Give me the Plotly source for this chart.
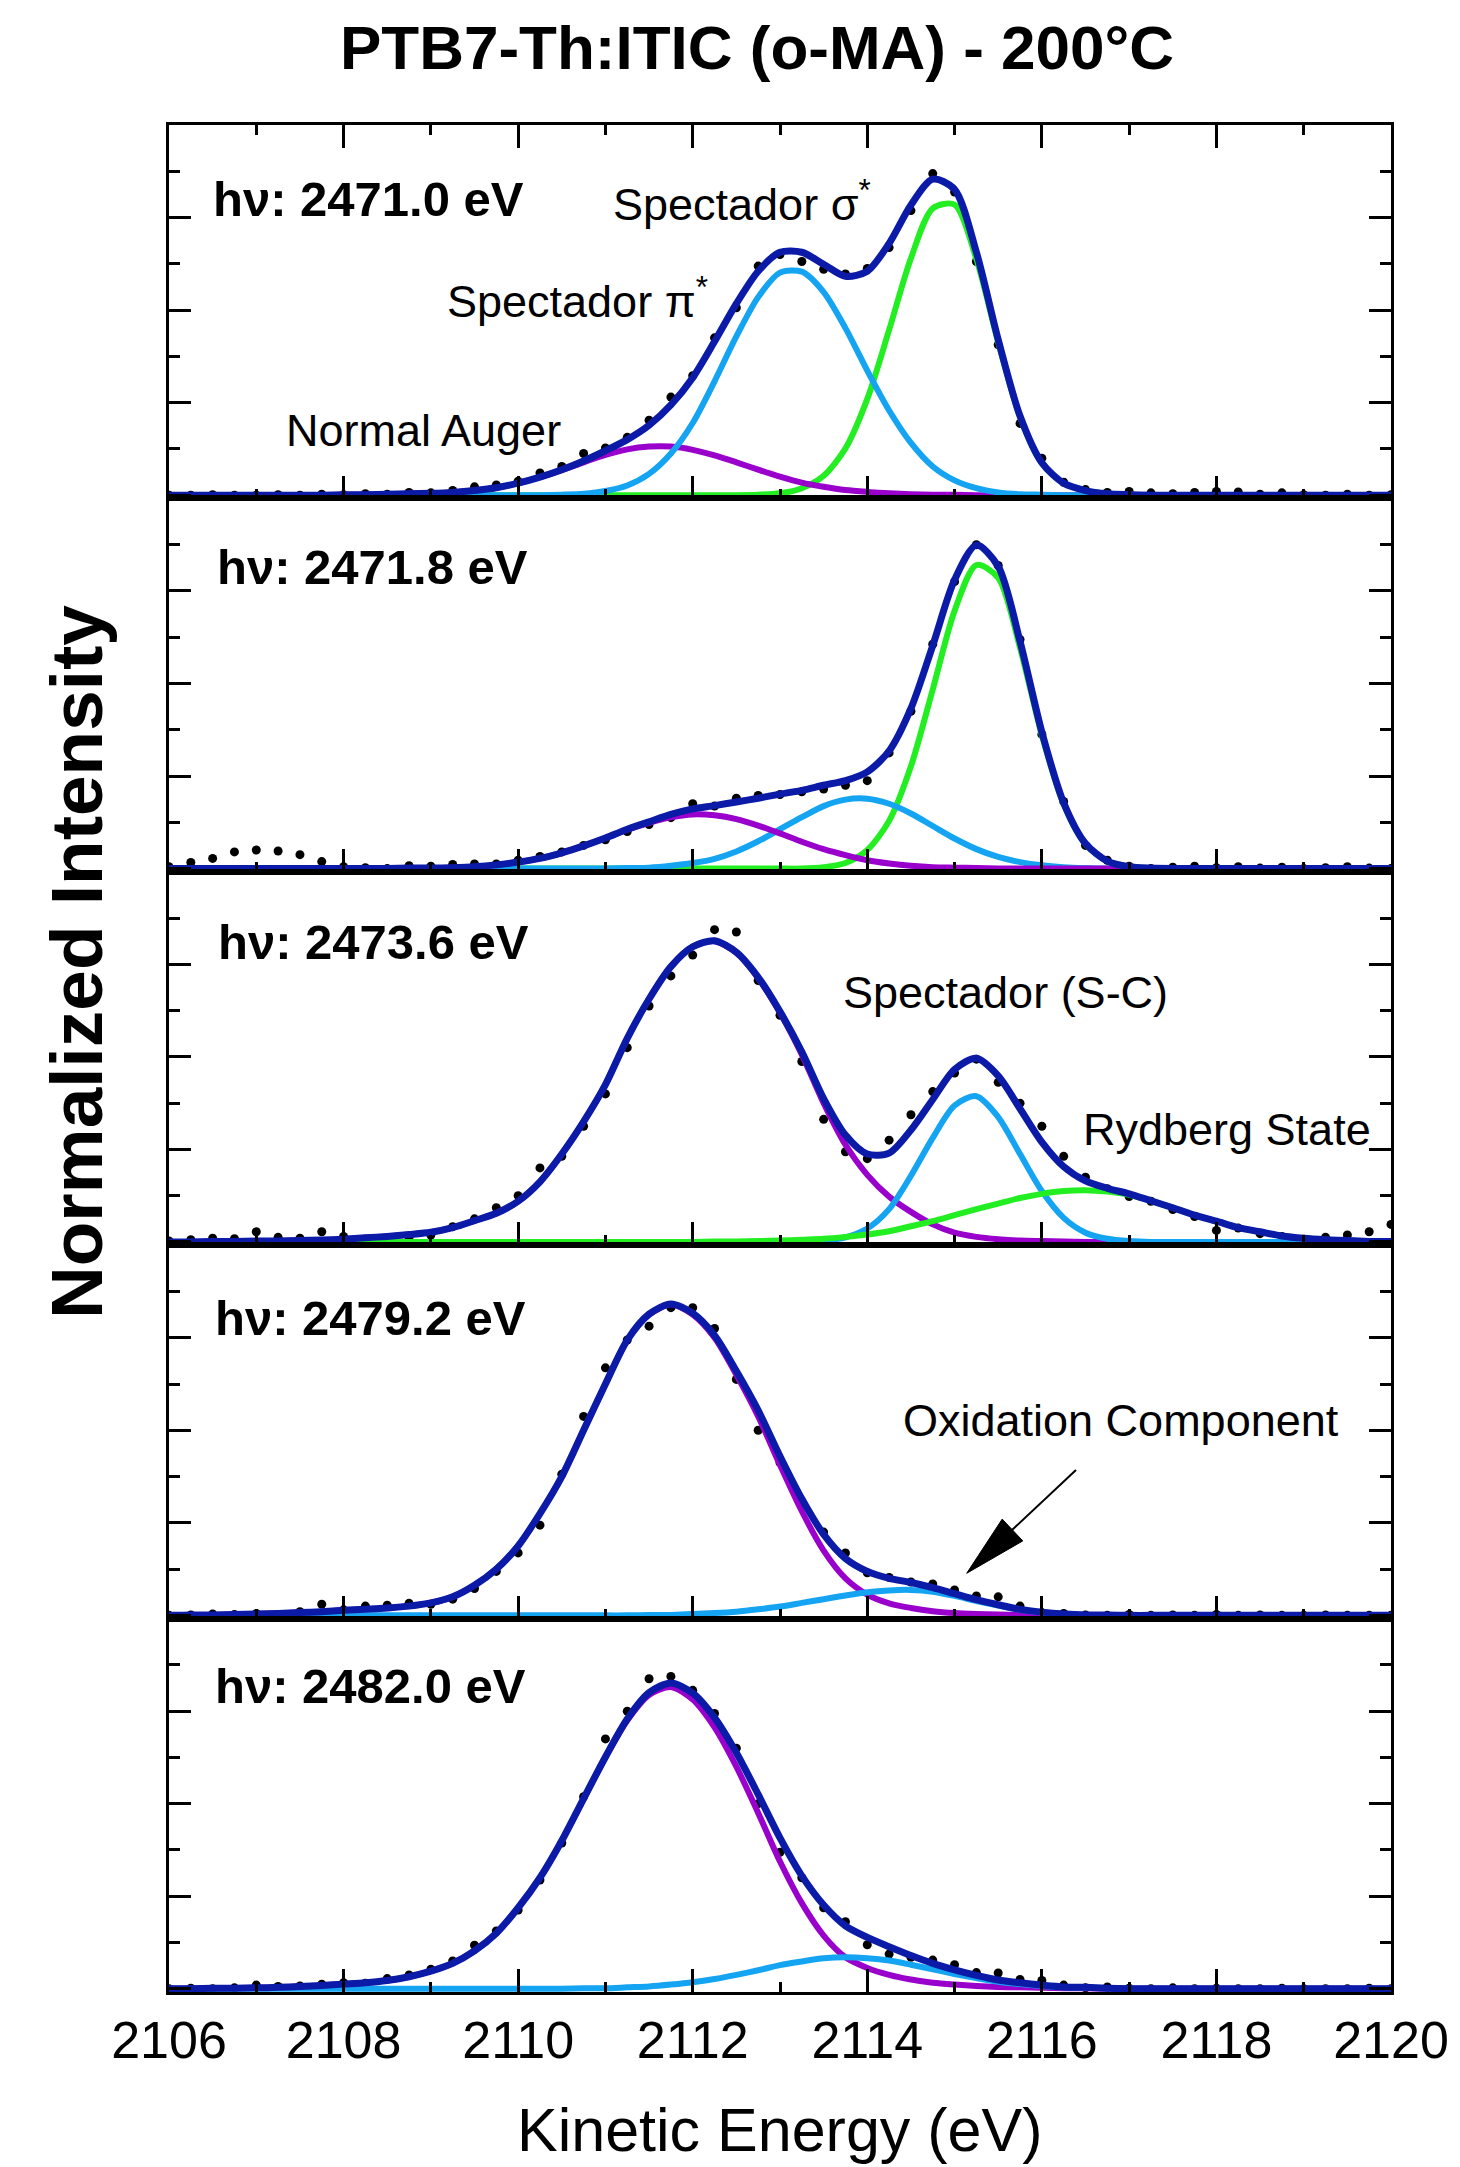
import numpy as np
import plotly.graph_objects as go
from plotly.subplots import make_subplots

# ---------------- data ----------------
KE = [2106.00, 2106.25, 2106.50, 2106.75, 2107.00, 2107.25, 2107.50, 2107.75,
      2108.00, 2108.25, 2108.50, 2108.75, 2109.00, 2109.25, 2109.50, 2109.75,
      2110.00, 2110.25, 2110.50, 2110.75, 2111.00, 2111.25, 2111.50, 2111.75,
      2112.00, 2112.25, 2112.50, 2112.75, 2113.00, 2113.25, 2113.50, 2113.75,
      2114.00, 2114.25, 2114.50, 2114.75, 2115.00, 2115.25, 2115.50, 2115.75,
      2116.00, 2116.25, 2116.50, 2116.75, 2117.00, 2117.25, 2117.50, 2117.75,
      2118.00, 2118.25, 2118.50, 2118.75, 2119.00, 2119.25, 2119.50, 2119.75,
      2120.00]

X_TICKS = [2106, 2108, 2110, 2112, 2114, 2116, 2118, 2120]

# hv = 2471.0 eV
P1_AUGER = [0,0,0,0, 0,0,0,0, 0.01,0.01,0.02,0.03, 0.04,0.06,0.10,0.16,
            0.26,0.39,0.54,0.71, 0.87,0.99,1.05,1.05, 0.98,0.86,0.71,0.55,
            0.40,0.27,0.18,0.11, 0.07,0.04,0.02,0.01, 0.01,0,0,0,
            0,0,0,0, 0,0,0,0, 0,0,0,0, 0,0,0,0, 0]
P1_PI = [0,0,0,0, 0,0,0,0, 0,0,0,0, 0,0,0,0,
         0,0,0.01,0.03, 0.09,0.21,0.46,0.90, 1.56,2.46,3.43,4.28,
         4.81,4.83,4.39,3.61, 2.69,1.83,1.13,0.62, 0.32,0.15,0.06,0.02,
         0.01,0,0,0, 0,0,0,0, 0,0,0,0, 0,0,0,0, 0]
P1_SIGMA = [0,0,0,0, 0,0,0,0, 0,0,0,0, 0,0,0,0,
            0,0,0,0, 0,0,0,0, 0,0,0,0.01,
            0.04,0.15,0.42,1.01, 2.08,3.57,5.12,6.20, 6.28,5.10,3.30,1.69,
            0.69,0.26,0.10,0.03, 0.01,0,0,0, 0,0,0,0, 0,0,0,0, 0]
P1_DATA = [0.00,0.00,0.01,0.00, 0.00,0.01,0.00,0.02, 0.01,0.03,0.02,0.06,
           0.05,0.10,0.18,0.22, 0.30,0.48,0.62,0.90, 1.02,1.25,1.62,2.12,
           2.58,3.40,4.05,4.95, 5.20,5.05,4.88,4.78, 4.90,5.35,6.15,6.95,
           6.55,5.05,3.25,1.55, 0.80,0.28,0.12,0.06, 0.08,0.05,0.03,0.06,
           0.08,0.07,0.02,0.05, 0.01,0.00,0.02,0.00, 0.01]

# hv = 2471.8 eV
P2_AUGER = [0,0,0,0, 0,0,0,0, 0,0,0,0.01, 0.01,0.02,0.04,0.08,
            0.14,0.22,0.34,0.49, 0.66,0.84,0.99,1.11, 1.17,1.15,1.07,0.93,
            0.76,0.58,0.42,0.29, 0.18,0.11,0.06,0.03, 0.02,0.01,0,0,
            0,0,0,0, 0,0,0,0, 0,0,0,0, 0,0,0,0, 0]
P2_PI = [0,0,0,0, 0,0,0,0, 0,0,0,0, 0,0,0,0,
         0,0,0,0, 0,0.01,0.02,0.06, 0.12,0.21,0.37,0.59,
         0.85,1.11,1.35,1.49, 1.51,1.40,1.19,0.92, 0.65,0.42,0.25,0.14,
         0.07,0.03,0.01,0, 0,0,0,0, 0,0,0,0, 0,0,0,0, 0]
P2_SIGMA = [0,0,0,0, 0,0,0,0, 0,0,0,0, 0,0,0,0,
            0,0,0,0, 0,0,0,0, 0,0,0,0,
            0,0,0.03,0.12, 0.40,1.03,2.21,3.87, 5.57,6.56,6.28,4.77,
            2.88,1.39,0.53,0.16, 0.04,0.01,0,0, 0,0,0,0, 0,0,0,0, 0]
P2_DATA = [0.04,0.13,0.22,0.36, 0.40,0.38,0.30,0.15, 0.04,0.02,0.00,0.06,
           0.05,0.09,0.10,0.10, 0.18,0.26,0.36,0.50, 0.62,0.80,0.95,1.10,
           1.40,1.35,1.52,1.58, 1.60,1.66,1.72,1.80, 1.90,2.50,3.40,4.85,
           6.20,7.00,6.55,4.95, 2.90,1.45,0.50,0.18, 0.05,0.00,0.03,0.05,
           0.02,0.04,0.01,0.03, 0.00,0.02,0.04,0.01, 0.00]

# hv = 2473.6 eV
P3_AUGER = [0.00,0.00,0.01,0.01, 0.02,0.02,0.03,0.04, 0.06,0.09,0.12,0.16,
            0.21,0.31,0.46,0.62, 0.88,1.30,1.90,2.60, 3.40,4.40,5.25,5.95,
            6.38,6.50,6.25,5.70, 4.95,4.05,3.00,2.10, 1.45,0.98,0.65,0.38,
            0.20,0.11,0.06,0.03, 0.02,0.01,0,0, 0,0,0,0, 0,0,0,0, 0,0,0,0, 0]
P3_SC = [0,0,0,0, 0,0,0,0, 0,0,0,0, 0,0,0,0,
         0,0,0,0, 0,0,0,0, 0,0,0,0,
         0,0.01,0.03,0.10, 0.29,0.71,1.43,2.25, 2.95,3.15,2.70,1.90,
         1.10,0.52,0.20,0.07, 0.02,0,0,0, 0,0,0,0, 0,0,0,0, 0]
P3_RYD = [0,0,0,0, 0,0,0,0, 0,0,0,0, 0,0,0,0,
          0,0,0,0, 0,0,0,0, 0,0.01,0.01,0.02,
          0.03,0.05,0.07,0.11, 0.16,0.23,0.34,0.45, 0.58,0.71,0.83,0.95,
          1.04,1.10,1.12,1.09, 1.02,0.89,0.74,0.58, 0.45,0.31,0.22,0.13,
          0.08,0.05,0.03,0.01, 0.01]
P3_DATA = [0.02,0.05,0.08,0.07, 0.22,0.10,0.08,0.22, 0.12,0.06,0.08,0.10,
           0.15,0.33,0.50,0.74, 1.00,1.60,1.85,2.50, 3.20,4.20,5.10,5.75,
           6.20,6.75,6.70,5.65, 4.90,3.90,2.65,1.95, 1.80,2.20,2.75,3.25,
           3.65,3.95,3.45,3.00, 2.50,1.85,1.40,1.15, 0.98,0.88,0.70,0.55,
           0.25,0.30,0.18,0.12, 0.06,0.10,0.15,0.22, 0.38]

# hv = 2479.2 eV
P4_AUGER = [0.00,0.01,0.01,0.02, 0.03,0.04,0.06,0.08, 0.11,0.13,0.16,0.20,
            0.27,0.40,0.65,1.00, 1.50,2.20,3.00,4.00, 5.00,5.95,6.50,6.72,
            6.50,6.00,5.20,4.30, 3.25,2.25,1.40,0.80, 0.45,0.26,0.16,0.09,
            0.05,0.03,0.02,0.01, 0.01,0,0,0, 0,0,0,0, 0,0,0,0, 0,0,0,0, 0]
P4_OX = [0,0,0,0, 0,0,0,0, 0,0,0,0, 0,0,0,0,
         0,0,0,0, 0,0,0.01,0.01, 0.03,0.05,0.08,0.13,
         0.19,0.27,0.35,0.43, 0.50,0.54,0.55,0.51, 0.42,0.31,0.21,0.12,
         0.06,0.03,0.01,0.01, 0,0,0,0, 0,0,0,0, 0,0,0,0, 0]
P4_DATA = [0.00,0.01,0.03,0.02, 0.04,0.02,0.08,0.24, 0.12,0.20,0.22,0.26,
           0.24,0.35,0.58,0.95, 1.35,1.95,3.05,4.30, 5.35,5.95,6.25,6.65,
           6.65,6.20,5.10,4.00, 3.30,2.40,1.80,1.35, 0.92,0.82,0.72,0.68,
           0.55,0.42,0.40,0.20, 0.06,0.04,0.01,0.00, 0.02,0.00,0.01,0.00,
           0.02,0.00,0.01,0.00, 0.00,0.01,0.00,0.00, 0.00]

# hv = 2482.0 eV
P5_AUGER = [0.00,0.00,0.01,0.01, 0.02,0.03,0.05,0.07, 0.10,0.13,0.18,0.26,
            0.38,0.55,0.82,1.20, 1.75,2.40,3.20,4.10, 5.00,5.80,6.35,6.52,
            6.25,5.65,4.80,3.80, 2.75,1.85,1.15,0.68, 0.45,0.30,0.20,0.13,
            0.09,0.06,0.04,0.03, 0.02,0.01,0.01,0, 0,0,0,0, 0,0,0,0, 0,0,0,0, 0]
P5_OX = [0,0,0,0, 0,0,0,0, 0,0,0,0, 0,0,0,0,
         0,0,0,0.01, 0.01,0.03,0.05,0.09, 0.14,0.21,0.30,0.40,
         0.51,0.59,0.66,0.68, 0.66,0.61,0.52,0.42, 0.32,0.23,0.15,0.10,
         0.06,0.03,0.02,0.01, 0,0,0,0, 0,0,0,0, 0,0,0,0, 0]
P5_DATA = [0.00,0.01,0.00,0.02, 0.08,0.05,0.06,0.10, 0.13,0.12,0.22,0.30,
           0.42,0.60,0.94,1.25, 1.70,2.35,3.15,4.15, 5.40,6.00,6.70,6.75,
           6.45,5.95,5.20,4.00, 2.95,2.40,1.75,1.45, 0.95,0.75,0.68,0.62,
           0.52,0.35,0.34,0.20, 0.18,0.08,0.02,0.04, 0.01,0.00,0.02,0.00,
           0.01,0.00,0.00,0.01, 0.00,0.00,0.00,0.01, 0.00]

PHOTON_LABELS = ["hν: 2471.0 eV", "hν: 2471.8 eV", "hν: 2473.6 eV",
                 "hν: 2479.2 eV", "hν: 2482.0 eV"]

# ---------------- styling ----------------
FONT = "Liberation Sans, Arial, Helvetica, sans-serif"
C_TOTAL = "#0C1AA8"
C_PURPLE = "#9900CC"
C_LBLUE = "#14A4F2"
C_GREEN = "#22EE22"

# component draw order per panel (first = bottom)
PANELS = [
    dict(data=P1_DATA, comps=[(P1_SIGMA, C_GREEN), (P1_AUGER, C_PURPLE), (P1_PI, C_LBLUE)]),
    dict(data=P2_DATA, comps=[(P2_SIGMA, C_GREEN), (P2_PI, C_LBLUE), (P2_AUGER, C_PURPLE)]),
    dict(data=P3_DATA, comps=[(P3_AUGER, C_PURPLE), (P3_SC, C_LBLUE), (P3_RYD, C_GREEN)]),
    dict(data=P4_DATA, comps=[(P4_AUGER, C_PURPLE), (P4_OX, C_LBLUE)]),
    dict(data=P5_DATA, comps=[(P5_AUGER, C_PURPLE), (P5_OX, C_LBLUE)]),
]

W, H = 1460, 2167
ML, MR, MT, MB = 169, 69, 125, 175

fig = make_subplots(rows=5, cols=1, shared_xaxes=True, vertical_spacing=0)

for i, p in enumerate(PANELS):
    r = i + 1
    fig.add_trace(go.Scatter(x=KE, y=p["data"], mode="markers",
                             marker=dict(color="black", size=9),
                             hoverinfo="skip"), row=r, col=1)
    for vals, col in p["comps"]:
        fig.add_trace(go.Scatter(x=KE, y=vals, mode="lines",
                                 line=dict(color=col, width=6, shape="spline", smoothing=0.8),
                                 hoverinfo="skip"), row=r, col=1)
    total = np.sum([np.array(v, dtype=float) for v, _ in p["comps"]], axis=0)
    fig.add_trace(go.Scatter(x=KE, y=total, mode="lines",
                             line=dict(color=C_TOTAL, width=7, shape="spline", smoothing=0.8),
                             hoverinfo="skip"), row=r, col=1)

for r in range(1, 6):
    fig.update_yaxes(range=[-0.07, 8], showgrid=False, zeroline=False,
                     showline=True, linecolor="black", linewidth=2.5,
                     mirror="ticks", ticks="inside", ticklen=22, tickwidth=2.5,
                     tickcolor="black", tick0=0, dtick=2, showticklabels=False,
                     minor=dict(dtick=1, ticklen=11, tickwidth=2.5,
                                tickcolor="black", ticks="inside"),
                     row=r, col=1)
    fig.update_xaxes(range=[2106, 2120], showgrid=False, zeroline=False,
                     showline=True, linecolor="black", linewidth=2.5,
                     mirror=("ticks" if r == 1 else True),
                     ticks="inside", ticklen=23, tickwidth=2.5, tickcolor="black",
                     tickvals=X_TICKS, tickformat="d",
                     minor=dict(dtick=1, ticklen=10, tickwidth=2.5,
                                tickcolor="black", ticks="inside"),
                     showticklabels=(r == 5),
                     row=r, col=1)

fig.update_xaxes(tickfont=dict(size=52, color="black", family=FONT),
                 ticklabelstandoff=1, row=5, col=1)

def px_to_paper(x, y):
    return ((x - ML) / (W - ML - MR), 1 - (y - MT) / (H - MT - MB))

annotations = []
# photon energy labels (left edge x px, centre y px)
label_pos = [(211, 199), (215, 567), (216, 942), (213, 1318), (213, 1686)]
for txt, (lx, ly) in zip(PHOTON_LABELS, label_pos):
    ax_, ay_ = px_to_paper(lx, ly)
    annotations.append(dict(text="<b>" + txt + "</b>", x=ax_, y=ay_, xref="paper", yref="paper",
                            xanchor="left", yanchor="middle", showarrow=False,
                            font=dict(size=49, color="black", family=FONT)))

comp_labels = [
    ("Spectador σ<sup>*</sup>", 611, 201),
    ("Spectador π<sup>*</sup>", 445, 298),
    ("Normal Auger", 284, 431),
    ("Spectador (S-C)", 841, 992),
    ("Rydberg State", 1081, 1129),
    ("Oxidation Component", 901, 1420),
]
for txt, lx, ly in comp_labels:
    ax_, ay_ = px_to_paper(lx, ly)
    annotations.append(dict(text=txt, x=ax_, y=ay_, xref="paper", yref="paper",
                            xanchor="left", yanchor="middle", showarrow=False,
                            font=dict(size=45, color="black", family=FONT)))

# axis titles
tx, ty = px_to_paper(780, 2130)
annotations.append(dict(text="Kinetic Energy (eV)", x=tx, y=ty, xref="paper", yref="paper",
                        xanchor="center", yanchor="middle", showarrow=False,
                        font=dict(size=61, color="black", family=FONT)))
tx, ty = px_to_paper(77, 962)
annotations.append(dict(text="<b>Normalized Intensity</b>", x=tx, y=ty, xref="paper", yref="paper",
                        xanchor="center", yanchor="middle", showarrow=False, textangle=-90,
                        font=dict(size=73, color="black", family=FONT)))

# arrow pointing to the oxidation component
tail = px_to_paper(1076, 1470)
base = px_to_paper(1012, 1530)
tip = px_to_paper(966.7, 1573.3)
c1 = px_to_paper(1022.8, 1540.9)
c2 = px_to_paper(1002.2, 1519.1)
shapes = [
    dict(type="line", xref="paper", yref="paper", x0=tail[0], y0=tail[1], x1=base[0], y1=base[1],
         line=dict(color="black", width=2)),
    dict(type="path", xref="paper", yref="paper",
         path=f"M {tip[0]},{tip[1]} L {c1[0]},{c1[1]} L {c2[0]},{c2[1]} Z",
         fillcolor="black", line=dict(color="black", width=1)),
]

fig.update_layout(
    width=W, height=H,
    margin=dict(l=ML, r=MR, t=MT, b=MB),
    paper_bgcolor="white", plot_bgcolor="white",
    showlegend=False,
    title=dict(text="<b>PTB7-Th:ITIC (o-MA) - 200°C</b>", x=757 / W, xref="container",
               y=1 - 47 / H, yref="container", xanchor="center", yanchor="middle",
               font=dict(size=62, color="black", family=FONT)),
    annotations=annotations,
    shapes=shapes,
    font=dict(family=FONT, color="black"),
)

fig.write_html("out.html")
